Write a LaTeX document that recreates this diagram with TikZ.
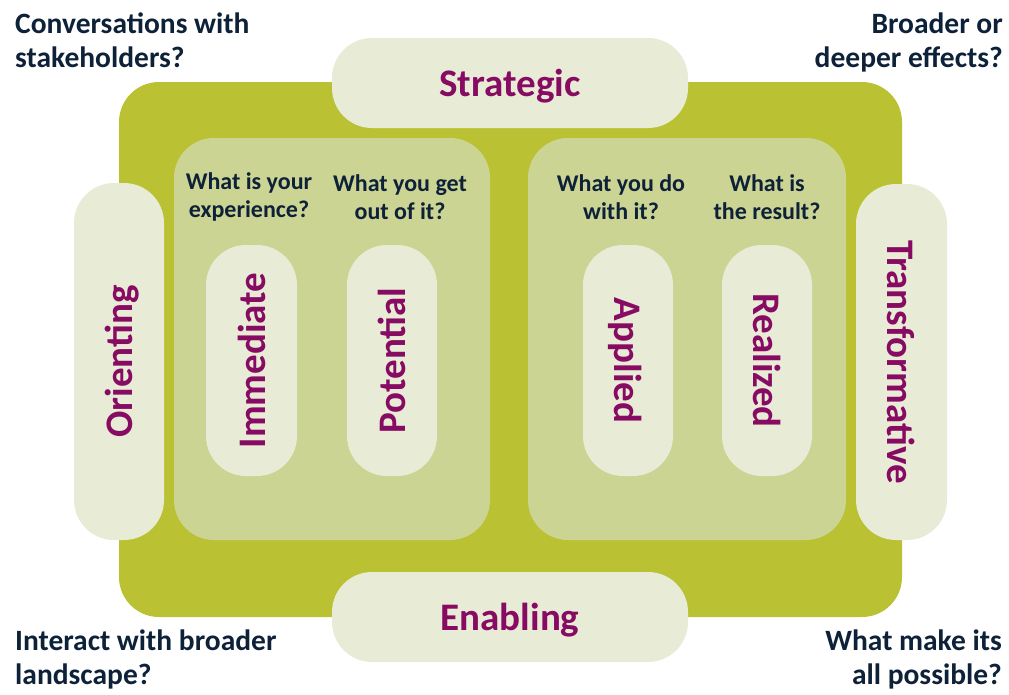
\documentclass[tikz,border=0pt]{standalone}
\usepackage{fontspec}
\setmainfont{Carlito}
\usepackage{xcolor}
\usepackage{tikz}
\definecolor{olive}{rgb}{0.73,0.76,0.20}
\definecolor{panel}{rgb}{0.80,0.83,0.58}
\definecolor{pale}{rgb}{0.91,0.92,0.84}
\definecolor{plum}{rgb}{0.53,0.04,0.39}
\definecolor{navy}{rgb}{0.05,0.13,0.22}
\usetikzlibrary{positioning}

\tikzset{
  pill/.style={fill=pale, rounded corners=40, inner sep=0, text=plum, text depth=0,
    font=\bfseries\fontsize{39}{44}\selectfont},
  question/.style={text=navy, align=center, inner sep=0,
    font=\bfseries\fontsize{24}{28}\selectfont},
  corner/.style={text=navy, inner sep=0,
    font=\bfseries\fontsize{29.5}{34}\selectfont}
}

\begin{document}
\begin{tikzpicture}[x=1pt,y=-1pt]
\useasboundingbox (0,0) rectangle (1009,694);
\fill [olive, rounded corners=40] (119,82) rectangle (902,617); % big frame
\fill [panel, rounded corners=40] (174,138) rectangle (490,540); % left panel
\fill [panel, rounded corners=40] (528,138) rectangle (846,540); % right panel

\node [pill, minimum width=356, minimum height=90] (strategic) at (510,83) {Strategic};
\node [pill, minimum width=356, minimum height=90] (enabling) at (510,617) {Enabling};
\node [pill, rotate=90, minimum width=357, minimum height=90] (orienting) at (119,361.5) {Orienting};
\node [pill, rotate=-90, minimum width=356, minimum height=91] (transformative) at (901.5,362) {Transformative};

\node [pill, rotate=90, minimum width=231, minimum height=91] (immediate) at (251.5,360.5) {Immediate};
\node [pill, rotate=90, minimum width=231, minimum height=90] (potential) at (392,360.5) {Potential};
\node [pill, rotate=-90, minimum width=231, minimum height=90] (applied) at (628,360.5) {Applied};
\node [pill, rotate=-90, minimum width=231, minimum height=90] (realized) at (767,360.5) {Realized};

% questions above the inner pills
\node [question] (q1) at (249,197) {What is your\\experience?};
\node [question] (q2) at (400,197) {What you get\\out of it?};
\node [question] (q3) at (621,197) {What you do\\with it?};
\node [question] (q4) at (767,197) {What is\\the result?};

% corners
\node [corner, align=left, anchor=north west] (tl) at (15,13) {Conversations with\\stakeholders?};
\node [corner, align=right, anchor=north east] (tr) at (1003,13) {Broader or\\deeper effects?};
\node [corner, align=left, anchor=north west] (bl) at (15,630) {Interact with broader\\landscape?};
\node [corner, align=right, anchor=north east] (br) at (1002,630) {What make its\\all possible?};
\end{tikzpicture}
\end{document}
